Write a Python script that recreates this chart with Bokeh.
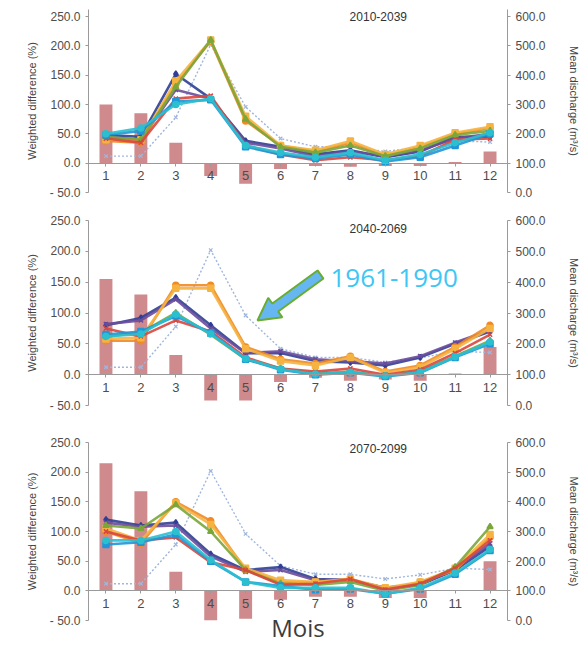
from bokeh.plotting import figure
from bokeh.models import (Range1d, LinearAxis, Label, CustomJSTickFormatter,
                          FixedTicker)
from bokeh.layouts import column
from bokeh.embed import file_html
from bokeh.resources import INLINE

# ---------------- data ----------------
months = list(range(1, 13))
periods = ["2010-2039", "2040-2069", "2070-2099"]

# weighted difference (%) - bars (left axis)
diff_2010 = [100, 85, 35, -22, -35, -10, -5, -6, -5, -5, 2, 20]
diff_2040 = [155, 130, 32, -42, -42, -12, -5, -10, -8, -10, 2, 45]
diff_2070 = [215, 168, 32, -50, -47, -15, -10, -10, -12, -12, 0, 50]

# reference mean discharge 1961-1990 (m3/s) - dotted line (right axis)
ref_1961_1990 = [124, 124, 256, 504, 292, 184, 156, 156, 140, 154, 176, 172]

model_names = ["M1", "M2", "M3", "M4", "M5", "M6", "M7", "M8"]
model_colors = ["#2f3f94", "#6a4c9c", "#f08a24", "#f5b342",
                "#7aa63a", "#d9463e", "#1f96d8", "#2bbfcf"]
model_markers = ["diamond", "x", "circle", "square",
                 "triangle", "x", "square", "circle"]

# mean discharge (m3/s) per model, 2010-2039
q2010_m1 = [196, 190, 404, 320, 176, 156, 130, 144, 120, 140, 190, 190]
q2010_m2 = [190, 180, 350, 320, 170, 150, 124, 140, 124, 144, 184, 200]
q2010_m3 = [176, 170, 370, 516, 244, 160, 140, 170, 124, 156, 200, 220]
q2010_m4 = [180, 180, 380, 520, 260, 160, 144, 176, 130, 160, 204, 224]
q2010_m5 = [190, 180, 360, 520, 250, 156, 136, 160, 124, 150, 196, 210]
q2010_m6 = [184, 170, 320, 330, 160, 130, 110, 120, 110, 124, 180, 184]
q2010_m7 = [196, 210, 310, 316, 156, 130, 116, 130, 106, 120, 160, 200]
q2010_m8 = [200, 220, 300, 320, 160, 136, 120, 136, 110, 130, 170, 204]

# 2040-2069
q2040_m1 = [260, 284, 350, 260, 170, 170, 144, 140, 130, 156, 200, 240]
q2040_m2 = [264, 276, 344, 250, 170, 176, 150, 144, 136, 160, 204, 244]
q2040_m3 = [210, 210, 390, 390, 190, 150, 136, 160, 110, 130, 190, 260]
q2040_m4 = [216, 220, 380, 380, 184, 144, 130, 156, 106, 124, 184, 250]
q2040_m5 = [224, 236, 300, 230, 150, 120, 104, 110, 96, 110, 160, 210]
q2040_m6 = [250, 224, 276, 240, 156, 120, 110, 120, 100, 116, 170, 230]
q2040_m7 = [230, 240, 290, 236, 150, 116, 100, 106, 94, 106, 156, 200]
q2040_m8 = [224, 232, 296, 232, 152, 118, 102, 108, 96, 108, 158, 206]

# 2070-2099
q2070_m1 = [340, 320, 330, 224, 170, 180, 140, 136, 110, 120, 170, 250]
q2070_m2 = [330, 316, 320, 216, 164, 170, 136, 136, 110, 124, 170, 260]
q2070_m3 = [300, 260, 400, 336, 170, 130, 130, 140, 104, 130, 170, 280]
q2070_m4 = [310, 270, 396, 324, 176, 136, 130, 140, 110, 130, 176, 290]
q2070_m5 = [320, 310, 390, 300, 170, 124, 120, 130, 100, 120, 180, 316]
q2070_m6 = [300, 270, 280, 196, 170, 120, 124, 140, 104, 124, 176, 270]
q2070_m7 = [256, 264, 290, 200, 130, 116, 104, 106, 90, 106, 156, 236]
q2070_m8 = [270, 270, 300, 204, 130, 110, 110, 110, 90, 110, 160, 240]

series_2010 = [q2010_m1, q2010_m2, q2010_m3, q2010_m4, q2010_m5, q2010_m6, q2010_m7, q2010_m8]
series_2040 = [q2040_m1, q2040_m2, q2040_m3, q2040_m4, q2040_m5, q2040_m6, q2040_m7, q2040_m8]
series_2070 = [q2070_m1, q2070_m2, q2070_m3, q2070_m4, q2070_m5, q2070_m6, q2070_m7, q2070_m8]

left_ticks = [-50, 0, 50, 100, 150, 200, 250]
right_ticks = [0, 100, 200, 300, 400, 500, 600]

# ---------------- styling ----------------
FONT = "Liberation Sans"
ANNOT_FONT = "Open Sans"
AX_COL = "#9a9a9a"
TXT_COL = "#4d4d4d"
BAR_COL = "#c97d80"
REF_COL = "#9fb6dc"

fmt = CustomJSTickFormatter(code="""
    return tick < 0 ? '- ' + Math.abs(tick).toFixed(1) : tick.toFixed(1);
""")

FRAME_W = 419
LEFT_B = 88
RIGHT_B = 77


def style_axis(ax):
    ax.axis_line_color = AX_COL
    ax.major_tick_line_color = AX_COL
    ax.minor_tick_line_color = None
    ax.major_tick_in = 0
    ax.major_tick_out = 3
    ax.major_label_text_font = FONT
    ax.major_label_text_font_size = "12px"
    ax.major_label_text_color = TXT_COL
    ax.axis_label_text_font = FONT
    ax.axis_label_text_font_size = "11px"
    ax.axis_label_text_font_style = "normal"
    ax.axis_label_text_color = "#444444"


def make_panel(period, diff, series, y_top, frame_h, b_top, b_bottom, title_y):
    q_top = 100 + 2 * y_top
    p = figure(frame_width=FRAME_W, frame_height=frame_h,
               x_range=Range1d(0.5, 12.5), y_range=Range1d(-50, y_top),
               output_backend="svg", toolbar_location=None,
               x_axis_location=None, y_axis_location=None,
               min_border_left=LEFT_B, min_border_right=RIGHT_B,
               min_border_top=b_top, min_border_bottom=b_bottom,
               outline_line_color=None, background_fill_color="white",
               border_fill_color="white")
    p.grid.visible = False
    p.extra_y_ranges = {"q": Range1d(0, q_top)}

    yl = LinearAxis(ticker=FixedTicker(ticks=left_ticks), formatter=fmt,
                    axis_label="Weighted difference (%)")
    style_axis(yl)
    yl.axis_label_standoff = 9
    p.add_layout(yl, "left")

    yr = LinearAxis(y_range_name="q", ticker=FixedTicker(ticks=right_ticks),
                    formatter=fmt, axis_label="Mean discharge (m³/s)")
    style_axis(yr)
    yr.axis_label_standoff = 19
    p.add_layout(yr, "right")

    xa = LinearAxis(ticker=FixedTicker(ticks=months), fixed_location=0)
    style_axis(xa)
    xa.major_label_text_font_size = "13px"
    xa.major_label_standoff = 5
    p.add_layout(xa, "below")

    p.vbar(x=months, top=diff, bottom=0, width=0.37,
           fill_color=BAR_COL, line_color=None, fill_alpha=0.9)

    p.line(x=months, y=ref_1961_1990, y_range_name="q", line_color=REF_COL,
           line_width=1.4, line_dash="2 2")
    p.scatter(x=months, y=ref_1961_1990, y_range_name="q", marker="x",
              size=5, line_color=REF_COL, line_width=1.2)

    for name, col, mk, vals in zip(model_names, model_colors, model_markers, series):
        p.line(x=months, y=vals, y_range_name="q", line_color=col,
               line_width=2.6, line_alpha=0.9, name=name)
        p.scatter(x=months, y=vals, y_range_name="q", marker=mk, size=6,
                  fill_color=col, line_color=col, line_width=1.5, name=name)

    p.add_layout(Label(x=8.8, y=title_y, text=period, text_align="center",
                       text_baseline="middle", text_font=FONT,
                       text_font_size="12px", text_color="#333333"))
    return p


# panel 1: frame extended a little above 250 so the period label fits
p1 = make_panel(periods[0], diff_2010, series_2010, 262, 183, 9, 16, 250)
p2 = make_panel(periods[1], diff_2040, series_2040, 250, 185, 12, 15, 237)
p3 = make_panel(periods[2], diff_2070, series_2070, 250, 178, 22, 24, 240)

# "Mois" as the title of the month axis (bottom panel)
mois = LinearAxis(ticker=FixedTicker(ticks=[]), axis_label="Mois")
mois.axis_line_color = None
mois.major_tick_line_color = None
mois.minor_tick_line_color = None
mois.axis_label_text_font = ANNOT_FONT
mois.axis_label_text_font_size = "24px"
mois.axis_label_text_font_style = "normal"
mois.axis_label_text_color = "#3c3c3c"
mois.axis_label_standoff = -10
p3.add_layout(mois, "below")

# ---- annotation arrow + label on middle panel ----
sx = FRAME_W / 12.0
sy2 = 185 / 300.0


def to_d2(px, py):
    return 0.5 + (px - 88) / sx, 250 - (py - 220) / sy2


tail = (320.0, 274.0)
tip = (257.0, 320.0)
dx, dy = tip[0] - tail[0], tip[1] - tail[1]
L = (dx * dx + dy * dy) ** 0.5
ux, uy = dx / L, dy / L
nx, ny = -uy, ux
hw, hh, hl = 5.0, 12.0, 22.0
neck = (tip[0] - ux * hl, tip[1] - uy * hl)
pts = [
    (tail[0] + nx * hw, tail[1] + ny * hw),
    (neck[0] + nx * hw, neck[1] + ny * hw),
    (neck[0] + nx * hh, neck[1] + ny * hh),
    tip,
    (neck[0] - nx * hh, neck[1] - ny * hh),
    (neck[0] - nx * hw, neck[1] - ny * hw),
    (tail[0] - nx * hw, tail[1] - ny * hw),
]
dpts = [to_d2(a, b) for a, b in pts]
p2.patch(x=[a for a, b in dpts], y=[b for a, b in dpts],
         fill_color="#66b6f2", line_color="#6aad2e", line_width=2)

lx, ly = to_d2(330, 277)
p2.add_layout(Label(x=lx, y=ly, text="1961-1990", text_align="left",
                    text_baseline="middle", text_font=ANNOT_FONT,
                    text_font_size="26px", text_color="#3ec6f4"))

layout = column(p1, p2, p3, spacing=0)

open("out.html", "w").write(file_html(layout, INLINE))
